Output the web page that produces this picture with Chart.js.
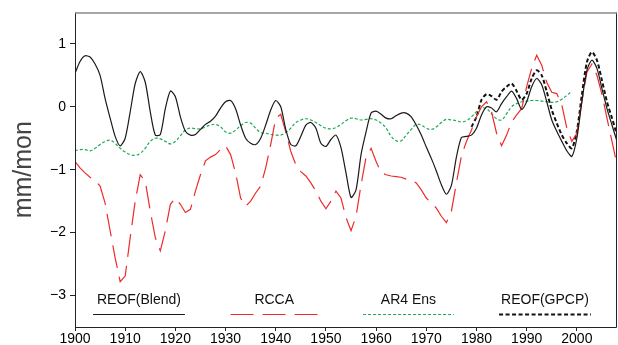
<!DOCTYPE html>
<html><head><meta charset="utf-8">
<script src="https://cdn.jsdelivr.net/npm/chart.js@4/dist/chart.umd.min.js"></script>
<style>html,body{margin:0;padding:0;background:#fff}#wrap{width:618px;height:345px;position:relative}</style>
</head><body><div id="wrap"><canvas id="c"></canvas></div>
<script>
const years = [1900,1901,1902,1903,1904,1905,1906,1907,1908,1909,1910,1911,1912,1913,1914,1915,1916,1917,1918,1919,
1920,1921,1922,1923,1924,1925,1926,1927,1928,1929,1930,1931,1932,1933,1934,1935,1936,1937,1938,1939,
1940,1941,1942,1943,1944,1945,1946,1947,1948,1949,1950,1951,1952,1953,1954,1955,1956,1957,1958,1959,
1960,1961,1962,1963,1964,1965,1966,1967,1968,1969,1970,1971,1972,1973,1974,1975,1976,1977,1978,1979,
1980,1981,1982,1983,1984,1985,1986,1987,1988,1989,1990,1991,1992,1993,1994,1995,1996,1997,1998,1999,
2000,2001,2002,2003,2004,2005,2006,2007,2008];

const blend = [0.53,0.72,0.81,0.79,0.68,0.50,0.13,-0.18,-0.47,-0.62,
-0.50,-0.08,0.37,0.56,0.39,-0.08,-0.45,-0.44,-0.03,0.25,
0.16,-0.16,-0.39,-0.45,-0.44,-0.36,-0.28,-0.23,-0.15,-0.02,
0.08,0.10,-0.03,-0.29,-0.50,-0.58,-0.60,-0.50,-0.29,-0.05,
0.10,0.00,-0.36,-0.60,-0.62,-0.47,-0.29,-0.25,-0.34,-0.58,
-0.63,-0.52,-0.45,-0.65,-1.05,-1.44,-1.32,-0.76,-0.40,-0.10,
-0.07,-0.12,-0.18,-0.19,-0.14,-0.10,-0.10,-0.16,-0.29,-0.45,
-0.64,-0.82,-1.02,-1.24,-1.39,-1.25,-0.80,-0.49,-0.47,-0.45,
-0.34,-0.13,0.00,-0.02,-0.08,0.05,0.16,0.25,0.13,-0.04,
0.08,0.32,0.45,0.35,0.08,-0.21,-0.39,-0.55,-0.70,-0.79,
-0.50,0.08,0.58,0.74,0.61,0.29,-0.03,-0.29,-0.55];

const rcca = [-0.87,-0.97,-1.05,-1.12,-1.17,-1.26,-1.53,-1.97,-2.40,-2.78,
-2.69,-2.08,-1.50,-1.08,-1.18,-1.66,-2.08,-2.29,-1.97,-1.55,
-1.45,-1.55,-1.68,-1.63,-1.34,-1.08,-0.86,-0.80,-0.76,-0.68,
-0.62,-0.76,-1.05,-1.45,-1.58,-1.50,-1.37,-1.26,-0.97,-0.60,
-0.18,-0.12,-0.40,-0.71,-0.92,-1.03,-1.10,-1.21,-1.34,-1.50,
-1.62,-1.50,-1.34,-1.45,-1.76,-1.97,-1.74,-1.24,-0.80,-0.66,
-0.87,-1.05,-1.08,-1.10,-1.11,-1.12,-1.15,-1.17,-1.21,-1.32,
-1.45,-1.53,-1.61,-1.74,-1.84,-1.66,-1.21,-0.78,-0.55,-0.37,
-0.16,0.00,0.08,-0.08,-0.42,-0.62,-0.45,-0.24,-0.13,-0.03,
0.32,0.61,0.82,0.66,0.39,0.23,0.21,0.03,-0.34,-0.55,
-0.42,0.08,0.55,0.68,0.50,0.20,-0.18,-0.55,-0.92];

const ar4Years = years.slice(0, 100);
const ar4 = [-0.70,-0.68,-0.68,-0.70,-0.66,-0.60,-0.55,-0.53,-0.58,-0.66,
-0.72,-0.76,-0.77,-0.74,-0.66,-0.55,-0.50,-0.51,-0.55,-0.59,
-0.55,-0.46,-0.37,-0.34,-0.35,-0.35,-0.32,-0.29,-0.28,-0.32,
-0.40,-0.42,-0.37,-0.30,-0.25,-0.26,-0.34,-0.41,-0.42,-0.44,
-0.45,-0.45,-0.41,-0.34,-0.25,-0.21,-0.19,-0.21,-0.25,-0.30,
-0.34,-0.35,-0.33,-0.28,-0.22,-0.18,-0.19,-0.21,-0.20,-0.19,
-0.21,-0.26,-0.34,-0.47,-0.54,-0.54,-0.45,-0.36,-0.28,-0.29,
-0.34,-0.36,-0.32,-0.25,-0.20,-0.21,-0.22,-0.24,-0.22,-0.16,
-0.08,-0.02,-0.03,-0.11,-0.19,-0.21,-0.11,0.00,0.05,0.08,
0.09,0.10,0.10,0.09,0.08,0.07,0.08,0.12,0.18,0.25];

const gpcpYears = years.slice(79);
const gpcp = [-0.32,-0.16,0.11,0.20,0.17,0.11,0.24,0.32,0.37,0.25,
0.11,0.21,0.45,0.58,0.50,0.24,-0.05,-0.26,-0.45,-0.58,
-0.66,-0.39,0.19,0.71,0.87,0.74,0.42,0.08,-0.18,-0.45];

const xTicks = [1900,1910,1920,1930,1940,1950,1960,1970,1980,1990,2000];
const yTicks = [-3,-2,-1,0,1];
const legendLabels = ['REOF(Blend)','RCCA','AR4 Ens','REOF(GPCP)'];
// legend line spans along the x axis (years)
const legendSpans = [[1903.6,1921.9],[1931.0,1948.4],[1957.4,1975.5],[1984.5,2002.8]];

const pts = (xs, ys) => ys.map((v, i) => ({x: xs[i], y: v}));
const FONT = "'Liberation Sans', Arial, sans-serif";

const frame = {
  id: 'frame',
  afterDraw(chart) {
    const {ctx, chartArea: a} = chart;
    ctx.save();
    ctx.strokeStyle = '#222'; ctx.lineWidth = 1;
    ctx.beginPath();
    ctx.moveTo(a.left + 0.5, a.top); ctx.lineTo(a.left + 0.5, a.bottom + 0.5);
    ctx.lineTo(a.right - 0.5, a.bottom + 0.5); ctx.lineTo(a.right - 0.5, a.top);
    ctx.stroke();
    ctx.strokeStyle = '#888'; ctx.lineWidth = 1.5;
    ctx.beginPath(); ctx.moveTo(a.left, a.top + 0.5); ctx.lineTo(a.right, a.top + 0.5); ctx.stroke();
    ctx.restore();
  }
};

const legendPlugin = {
  id: 'innerLegend',
  afterDatasetsDraw(chart) {
    const {ctx, scales: {x, y}} = chart;
    ctx.save();
    const ty = y.getPixelForValue(-3.08);
    const ly = y.getPixelForValue(-3.30);
    chart.data.datasets.forEach((ds, i) => {
      const x0 = x.getPixelForValue(legendSpans[i][0]);
      const x1 = x.getPixelForValue(legendSpans[i][1]);
      ctx.font = '14px ' + FONT;
      ctx.fillStyle = '#111';
      ctx.textAlign = 'center';
      ctx.textBaseline = 'middle';
      ctx.fillText(legendLabels[i], (x0 + x1) / 2, ty);
      ctx.strokeStyle = ds.borderColor;
      ctx.lineWidth = ds.borderWidth;
      ctx.setLineDash(ds.borderDash || []);
      ctx.beginPath(); ctx.moveTo(x0, Math.round(ly) + 0.5); ctx.lineTo(x1, Math.round(ly) + 0.5); ctx.stroke();
    });
    ctx.restore();
  }
};

new Chart(document.getElementById('c'), {
  type: 'line',
  data: {
    datasets: [
      {label: legendLabels[0], data: pts(years, blend), borderColor: '#1a1a1a', borderWidth: 1.2, tension: 0.25, pointRadius: 0},
      {label: legendLabels[1], data: pts(years, rcca), borderColor: '#ee2a2a', borderWidth: 1.2, borderDash: [23, 9], tension: 0, pointRadius: 0},
      {label: legendLabels[2], data: pts(ar4Years, ar4), borderColor: '#1faa55', borderWidth: 1.2, borderDash: [3, 2], tension: 0.4, pointRadius: 0},
      {label: legendLabels[3], data: pts(gpcpYears, gpcp), borderColor: '#111111', borderWidth: 2, borderDash: [4, 2.5], tension: 0.25, pointRadius: 0}
    ]
  },
  options: {
    responsive: true, maintainAspectRatio: false, animation: false,
    devicePixelRatio: 1,
    layout: {padding: {left: 0, right: 1, top: 10, bottom: 0}},
    plugins: {legend: {display: false}, tooltip: {enabled: false}},
    scales: {
      x: {
        type: 'linear', min: 1900, max: 2008,
        afterBuildTicks: s => { s.ticks = xTicks.map(v => ({value: v})); },
        afterFit: s => { s.height = 18; },
        grid: {display: true, drawOnChartArea: false, tickLength: 4, color: '#222'},
        border: {display: false},
        ticks: {padding: 0, color: '#000', font: {family: FONT, size: 14}, maxRotation: 0, autoSkip: false,
                callback: v => String(v)}
      },
      y: {
        type: 'linear', min: -3.5, max: 1.5,
        afterBuildTicks: s => { s.ticks = yTicks.map(v => ({value: v})); },
        afterFit: s => { s.width = 75; },
        grid: {display: true, drawOnChartArea: false, tickLength: 5, color: '#222'},
        border: {display: false},
        title: {display: true, text: 'mm/mon', color: '#444', font: {family: FONT, size: 25}, padding: {top: 9, bottom: 0}},
        ticks: {padding: 4, color: '#000', font: {family: FONT, size: 14},
                callback: v => String(v).replace('-', '\u2212')}
      }
    }
  },
  plugins: [frame, legendPlugin]
});
</script>
</body></html>
